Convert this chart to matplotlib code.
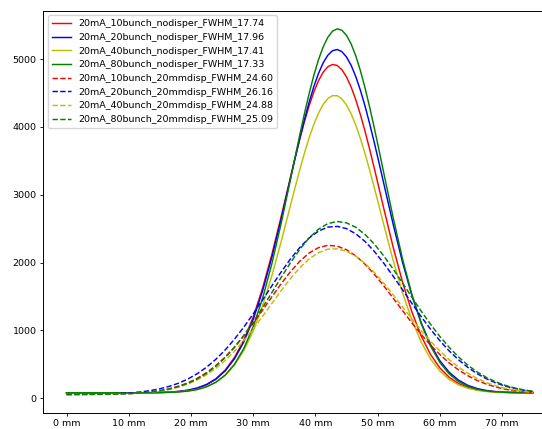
import matplotlib
matplotlib.use("Agg")
import matplotlib.pyplot as plt

# posição em mm: passo de 0.75 mm no pico das curvas sem dispersão
pos_nodisp = [0, 1.5, 3, 4.5, 6, 7.5, 9, 10.5, 12, 13.5, 15, 16.5, 18, 19.5, 21, 22.5,
              24, 25.5, 27, 28.5, 30, 31.5, 33, 34.5, 36, 36.75, 37.5, 38.25, 39, 39.75,
              40.5, 41.25, 42, 42.75, 43.5, 44.25, 45, 45.75, 46.5, 47.25, 48, 48.75, 49.5,
              50.25, 51, 52.5, 54, 55.5, 57, 58.5, 60, 61.5, 63, 64.5, 66, 67.5,
              69, 70.5, 72, 73.5, 75]
# posição em mm (passo de 1.5 mm) para as curvas com dispersão
pos_disp = [0, 1.5, 3, 4.5, 6, 7.5, 9, 10.5, 12, 13.5, 15, 16.5, 18, 19.5, 21, 22.5,
            24, 25.5, 27, 28.5, 30, 31.5, 33, 34.5, 36, 37.5, 39, 40.5, 42, 43.5, 45,
            46.5, 48, 49.5, 51, 52.5, 54, 55.5, 57, 58.5, 60, 61.5, 63, 64.5, 66, 67.5,
            69, 70.5, 72, 73.5, 75]

# sem dispersão
r_nodisp = [80, 80, 80, 80, 80, 80, 80, 80, 81, 82, 85, 90, 100, 119, 151, 203,
            287, 415, 601, 857, 1196, 1619, 2119, 2678, 3261, 3547, 3823, 4080, 4313, 4514,
            4680, 4805, 4886, 4919, 4905, 4843, 4736, 4586, 4397, 4176, 3928, 3659, 3377,
            3086, 2794, 2227, 1713, 1274, 919, 646, 447, 309, 217, 159, 124, 103,
            92, 86, 83, 81, 80]
b_nodisp = [80, 80, 80, 80, 80, 80, 80, 80, 81, 82, 85, 90, 100, 117, 148, 199,
            280, 402, 582, 831, 1161, 1579, 2078, 2642, 3241, 3541, 3832, 4109, 4365, 4593,
            4787, 4943, 5056, 5122, 5140, 5109, 5030, 4906, 4739, 4535, 4299, 4037, 3756,
            3462, 3161, 2564, 2007, 1518, 1113, 793, 554, 383, 267, 190, 143, 114,
            98, 89, 84, 82, 81]
y_nodisp = [80, 80, 80, 80, 80, 80, 80, 80, 80, 81, 83, 87, 94, 107, 130, 170,
            235, 337, 488, 703, 991, 1359, 1803, 2308, 2844, 3111, 3371, 3615, 3839, 4037,
            4202, 4330, 4417, 4460, 4459, 4412, 4322, 4192, 4024, 3825, 3599, 3354, 3093,
            2826, 2556, 2033, 1557, 1153, 828, 580, 401, 277, 197, 146, 116, 99,
            89, 85, 82, 81, 80]
g_nodisp = [80, 80, 80, 80, 80, 80, 80, 80, 80, 81, 83, 86, 93, 105, 128, 168,
            235, 341, 501, 734, 1052, 1468, 1981, 2577, 3228, 3559, 3885, 4199, 4493, 4759,
            4990, 5178, 5320, 5410, 5444, 5424, 5349, 5221, 5044, 4824, 4567, 4280, 3971,
            3647, 3316, 2662, 2056, 1531, 1102, 770, 528, 359, 246, 175, 132, 108,
            94, 87, 83, 82, 81]

# dispersão de 20 mm
r_disp = [55, 56, 56, 57, 58, 61, 65, 70, 79, 93, 112, 139, 177, 227, 293, 377,
          481, 607, 754, 920, 1103, 1297, 1495, 1688, 1866, 2020, 2141, 2220, 2254, 2242, 2189,
          2098, 1974, 1824, 1655, 1475, 1292, 1112, 941, 784, 644, 521, 418, 332, 262, 207,
          165, 132, 109, 92, 79]
b_disp = [56, 57, 58, 59, 62, 66, 72, 81, 94, 113, 139, 175, 221, 283, 361, 457,
          574, 712, 871, 1049, 1243, 1448, 1657, 1861, 2053, 2223, 2363, 2464, 2522, 2533, 2500,
          2423, 2309, 2161, 1989, 1799, 1600, 1399, 1203, 1018, 849, 698, 567, 455, 362, 286,
          226, 179, 144, 117, 98]
y_disp = [55, 56, 56, 57, 58, 60, 64, 69, 77, 89, 106, 130, 164, 210, 270, 346,
          441, 557, 693, 849, 1021, 1206, 1397, 1587, 1765, 1924, 2053, 2146, 2197, 2202, 2166,
          2093, 1986, 1851, 1695, 1524, 1347, 1171, 1001, 841, 697, 570, 460, 368, 292, 231,
          184, 147, 120, 100, 85]
g_disp = [55, 56, 56, 57, 58, 60, 64, 70, 78, 91, 109, 135, 171, 220, 285, 368,
          472, 599, 751, 926, 1121, 1334, 1557, 1781, 1997, 2195, 2363, 2492, 2574, 2605, 2585,
          2519, 2412, 2269, 2097, 1904, 1699, 1490, 1285, 1091, 911, 750, 609, 488, 388, 306,
          241, 190, 152, 123, 102]

rotulos = ["20mA_10bunch_nodisper_FWHM_17.74",
           "20mA_20bunch_nodisper_FWHM_17.96",
           "20mA_40bunch_nodisper_FWHM_17.41",
           "20mA_80bunch_nodisper_FWHM_17.33",
           "20mA_10bunch_20mmdisp_FWHM_24.60",
           "20mA_20bunch_20mmdisp_FWHM_26.16",
           "20mA_40bunch_20mmdisp_FWHM_24.88",
           "20mA_80bunch_20mmdisp_FWHM_25.09"]

xticks = [0, 10, 20, 30, 40, 50, 60, 70]
xtick_labels = ["0 mm", "10 mm", "20 mm", "30 mm", "40 mm", "50 mm", "60 mm", "70 mm"]

plt.rcParams["font.size"] = 6.8
plt.rcParams["axes.linewidth"] = 0.7
plt.rcParams["xtick.major.size"] = 2.4
plt.rcParams["ytick.major.size"] = 2.4
plt.rcParams["xtick.major.width"] = 0.6
plt.rcParams["ytick.major.width"] = 0.6
plt.rcParams["xtick.major.pad"] = 2.4
plt.rcParams["ytick.major.pad"] = 2.4

fig = plt.figure(figsize=(5.42, 4.29), dpi=100)
# o eixo passa um pouco da borda direita, como no original
ax = fig.add_axes([0.0797, 0.0378, 0.947, 0.9375])

series = [(pos_nodisp, r_nodisp, "r-"), (pos_nodisp, b_nodisp, "b-"),
          (pos_nodisp, y_nodisp, "y-"), (pos_nodisp, g_nodisp, "g-"),
          (pos_disp, r_disp, "r--"), (pos_disp, b_disp, "b--"),
          (pos_disp, y_disp, "y--"), (pos_disp, g_disp, "g--")]
for (xs, valores, estilo), rotulo in zip(series, rotulos):
    ax.plot(xs, valores, estilo, label=rotulo, linewidth=1.05)

ax.set_xticks(xticks)
ax.set_xticklabels(xtick_labels)
ax.legend(loc="upper left")

fig.savefig("out.png", dpi=100)
